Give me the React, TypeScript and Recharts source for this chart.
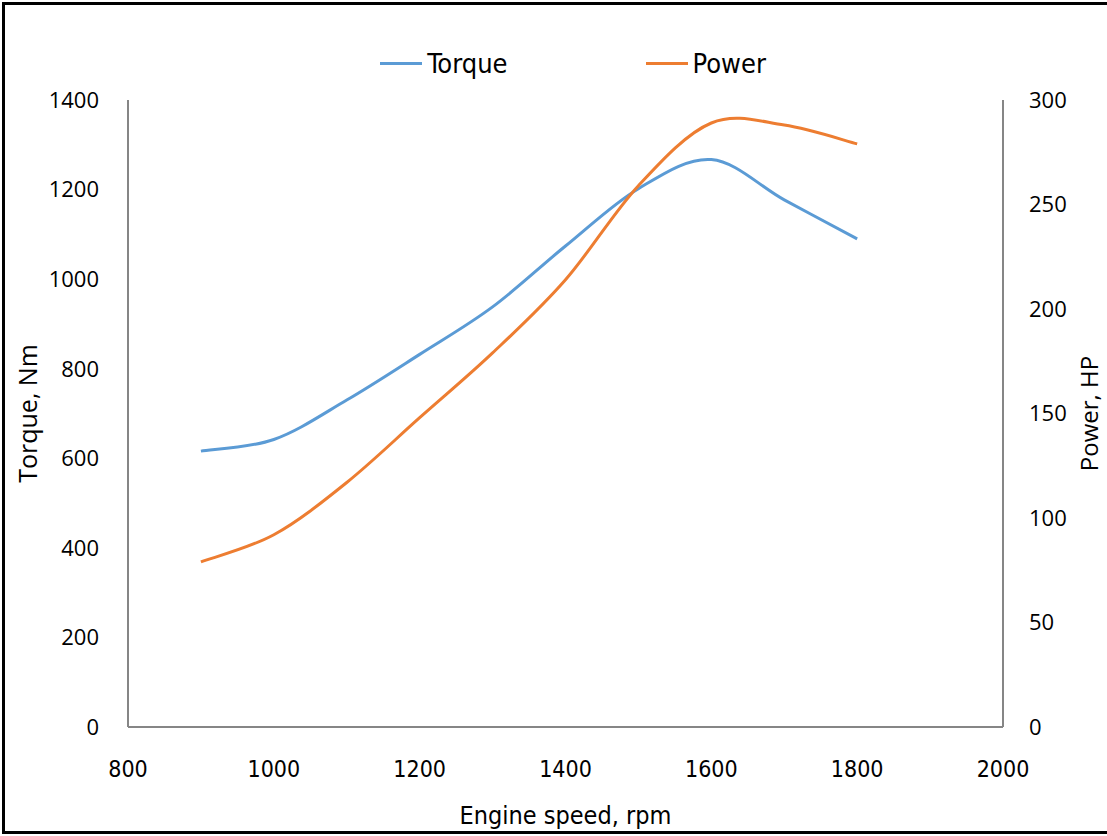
import React from 'react';
import { LineChart, Line, XAxis, YAxis, Legend } from 'recharts';

// engine speed, rpm
const rpm = [900, 1000, 1100, 1200, 1300, 1400, 1500, 1600, 1700, 1800];
// torque, Nm (left axis)
const torque = [616, 642, 730, 832, 938, 1074, 1202, 1267, 1177, 1090];
// power, HP (right axis)
const power = [79, 92, 117, 148, 179, 214, 259, 289, 288, 279];

const xTicks = [800, 1000, 1200, 1400, 1600, 1800, 2000];
const torqueTicks = [0, 200, 400, 600, 800, 1000, 1200, 1400];
const powerTicks = [0, 50, 100, 150, 200, 250, 300];
const legendOrder = ['Torque', 'Power'];

const data = rpm.map((r, i) => ({ rpm: r, torque: torque[i], power: power[i] }));

const narrow = '"DejaVu Sans Condensed", "Open Sans", sans-serif';
const wide = '"Open Sans", "Noto Sans", sans-serif';
const axisGray = '#868686';

// spreadsheet-style smoothed line (Catmull-Rom turned into Bezier segments)
const smoothCurve: any = (context: any) => {
  let pts: number[][] = [];
  return {
    areaStart() {},
    areaEnd() {},
    lineStart() {
      pts = [];
    },
    point(x: number, y: number) {
      pts.push([+x, +y]);
    },
    lineEnd() {
      const n = pts.length;
      if (!n) return;
      context.moveTo(pts[0][0], pts[0][1]);
      for (let i = 0; i < n - 1; i++) {
        const p0 = pts[Math.max(i - 1, 0)];
        const p1 = pts[i];
        const p2 = pts[i + 1];
        const p3 = pts[Math.min(i + 2, n - 1)];
        context.bezierCurveTo(
          p1[0] + (p2[0] - p0[0]) / 6,
          p1[1] + (p2[1] - p0[1]) / 6,
          p2[0] - (p3[0] - p1[0]) / 6,
          p2[1] - (p3[1] - p1[1]) / 6,
          p2[0],
          p2[1]
        );
      }
    },
  };
};

const LegendContent = (props: any) => {
  const items = [...(props.payload || [])].sort(
    (a: any, b: any) => legendOrder.indexOf(a.value) - legendOrder.indexOf(b.value)
  );
  return (
    <div
      style={{
        display: 'flex',
        justifyContent: 'center',
        alignItems: 'center',
        paddingLeft: 39,
        fontFamily: narrow,
        fontSize: 27,
        color: '#000',
      }}
    >
      {items.map((p: any, i: number) => (
        <div key={p.value} style={{ display: 'flex', alignItems: 'center', marginRight: i === 0 ? 138 : 0 }}>
          <div style={{ width: 42, height: 3, background: p.color, marginRight: 5 }} />
          <span>{p.value}</span>
        </div>
      ))}
    </div>
  );
};

export default function App() {
  return (
    <div style={{ position: 'absolute', top: 0, left: 0, width: 1107, height: 836, background: '#fff' }}>
      <div
        style={{
          position: 'absolute',
          left: 2,
          top: 2,
          width: 1105,
          height: 832,
          boxSizing: 'border-box',
          borderLeft: '3px solid #000',
          borderTop: '3px solid #000',
          borderBottom: '3px solid #000',
        }}
      />
      <LineChart
        width={1107}
        height={836}
        data={data}
        margin={{ top: 100, right: 0, bottom: 0, left: 0 }}
      >
        <XAxis
          dataKey="rpm"
          type="number"
          domain={[800, 2000]}
          ticks={xTicks}
          interval={0}
          height={109}
          axisLine={{ stroke: axisGray, strokeWidth: 2 }}
          tickLine={false}
          tickSize={0}
          tickMargin={34}
          tick={{ fill: '#000', fontSize: 23, fontFamily: narrow }}
          label={{
            value: 'Engine speed, rpm',
            position: 'insideBottom',
            offset: 12,
            fill: '#000',
            fontSize: 25,
            fontFamily: narrow,
          }}
        />
        <YAxis
          yAxisId="left"
          orientation="left"
          domain={[0, 1400]}
          ticks={torqueTicks}
          interval={0}
          width={128}
          axisLine={{ stroke: axisGray, strokeWidth: 2 }}
          tickLine={false}
          tickSize={0}
          tickMargin={29}
          tick={{ fill: '#000', fontSize: 22, fontFamily: wide }}
          label={{
            value: 'Torque, Nm',
            angle: -90,
            position: 'insideLeft',
            offset: 28,
            fill: '#000',
            fontSize: 25,
            fontFamily: wide,
            style: { textAnchor: 'middle' },
          }}
        />
        <YAxis
          yAxisId="right"
          orientation="right"
          domain={[0, 300]}
          ticks={powerTicks}
          interval={0}
          width={104}
          axisLine={{ stroke: axisGray, strokeWidth: 2 }}
          tickLine={false}
          tickSize={0}
          tickMargin={26}
          tick={{ fill: '#000', fontSize: 22, fontFamily: wide, textAnchor: 'start' }}
          label={{
            value: 'Power, HP',
            angle: -90,
            position: 'insideRight',
            offset: 18,
            fill: '#000',
            fontSize: 24,
            fontFamily: wide,
            style: { textAnchor: 'middle' },
          }}
        />
        <Legend
          verticalAlign="middle"
          align="center"
          layout="horizontal"
          content={<LegendContent />}
          wrapperStyle={{ top: 48, left: 0, width: 1107 }}
        />
        <Line
          yAxisId="left"
          type={smoothCurve}
          dataKey="torque"
          name="Torque"
          stroke="#5B9BD5"
          strokeWidth={3}
          dot={false}
          activeDot={false}
          isAnimationActive={false}
        />
        <Line
          yAxisId="right"
          type={smoothCurve}
          dataKey="power"
          name="Power"
          stroke="#ED7D31"
          strokeWidth={3}
          dot={false}
          activeDot={false}
          isAnimationActive={false}
        />
      </LineChart>
    </div>
  );
}
